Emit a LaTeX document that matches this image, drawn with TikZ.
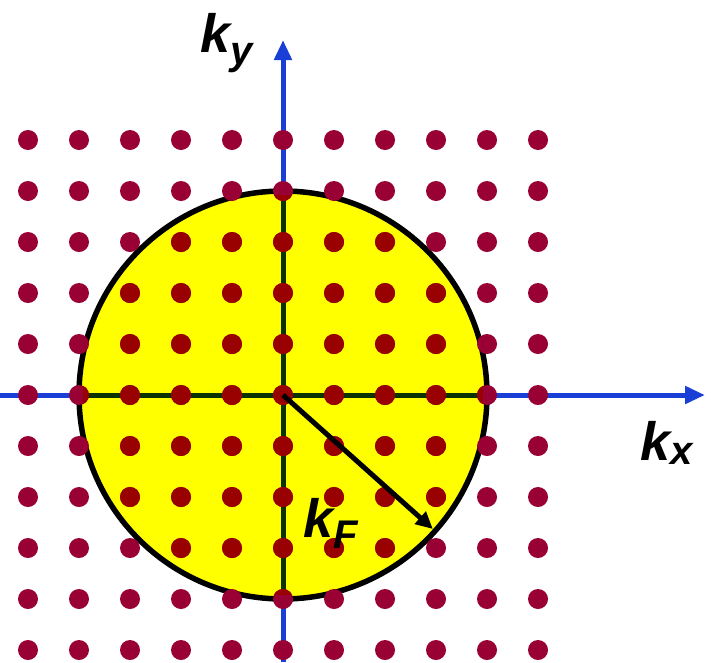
\documentclass[tikz,border=0pt]{standalone}
\usepackage{fontspec}
\setmainfont{Liberation Sans}
\usetikzlibrary{arrows.meta,calc}
\definecolor{dotred}{HTML}{990033}
\definecolor{dotin}{HTML}{990000}
\definecolor{axisblue}{HTML}{1A3FD6}
\definecolor{axisgreen}{HTML}{0A3300}
\definecolor{fillyellow}{HTML}{FFFF00}
\begin{document}
\begin{tikzpicture}[x=1pt,y=-1pt,
  axisline/.style={line width=5pt,axisblue},
  axisin/.style={line width=5pt,axisgreen},
  axisarrow/.style={-{Triangle[length=20pt,width=17pt]}},
  rim/.style={line width=5.5pt,black},
  radiusarrow/.style={line width=5pt,black,-{Triangle[length=17pt,width=16pt]}},
  lbl/.style={inner sep=0pt,font=\bfseries\itshape\fontsize{54}{54}\selectfont}]
\useasboundingbox (0,0) rectangle (711,662);
\coordinate (O) at (283,395);
\coordinate (xl) at (0,395);
\coordinate (xr) at (705,395);
\coordinate (yb) at (283,662);
\coordinate (yt) at (283,40);
% Fermi disc
\fill[fillyellow] (O) circle[radius=204pt];
% axes
\draw[axisline,axisarrow] (xl) -- (xr);
\draw[axisline,axisarrow] (yb) -- (yt);
\begin{scope}
  \clip (O) circle[radius=204pt];
  \draw[axisin] (xl) -- (xr);
  \draw[axisin] (yb) -- (yt);
\end{scope}
% Fermi circle
\draw[rim] (O) circle[radius=204pt];
% lattice of k points
\foreach \i in {0,...,10}
  \foreach \j in {0,...,10}
    \fill[dotred] (28+51*\i,140+51*\j) circle[radius=10pt];
\begin{scope}
  \clip (O) circle[radius=200pt];
  \foreach \i in {0,...,10}
    \foreach \j in {0,...,10}
      \fill[dotin] (28+51*\i,140+51*\j) circle[radius=10pt];
\end{scope}
% radius arrow
\coordinate (F) at ($(O)+(-41.8:201pt)$);
\draw[radiusarrow] (O) -- (F);
% labels
\node[lbl,anchor=base west] (ky) at (200,52) {k\raisebox{-12pt}{\fontsize{40}{40}\selectfont y}};
\node[lbl,anchor=base west] (kx) at (640,460) {k\raisebox{-4pt}{\fontsize{40}{40}\selectfont x}};
\node[lbl,anchor=base west] (kF) at (303,537) {k\raisebox{-11pt}{\fontsize{40}{40}\selectfont F}};
\end{tikzpicture}
\end{document}
